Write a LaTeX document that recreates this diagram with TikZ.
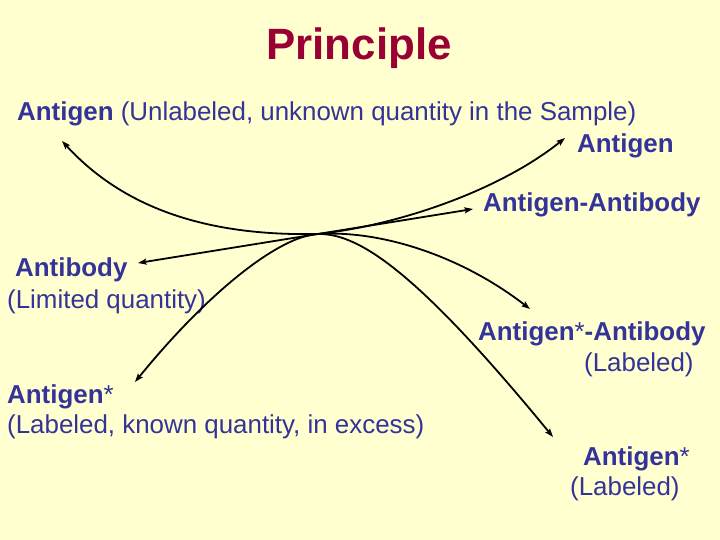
\documentclass[tikz,border=0pt]{standalone}
\usepackage{fontspec}
\setmainfont{Liberation Sans}
\usetikzlibrary{arrows.meta}
\definecolor{slidebg}{RGB}{255,255,208}
\definecolor{txtblue}{RGB}{51,51,153}
\definecolor{titlered}{RGB}{153,0,51}

\begin{document}
\begin{tikzpicture}[x=1bp,y=-1bp]
    \tikzstyle{annot}=[inner sep=0pt, anchor=base west, text=txtblue, font=\fontsize{26}{31}\selectfont]
    \tikzstyle{chem}=[annot, font=\fontsize{26}{31}\selectfont\bfseries]
    \tikzstyle{react}=[draw=black, line width=1.8bp, -{Stealth[length=8.5bp,width=6bp,inset=1.5bp]}]

    % Slide background
    \fill[slidebg] (0,0) rectangle (720,540);
    \useasboundingbox (0,0) rectangle (720,540);

    \node[inner sep=0pt, anchor=base, text=titlered, font=\fontsize{44}{52}\selectfont\bfseries] (title) at (359,60) {Principle};

    % Reactants
    \node[annot] (ag-in) at (17,121) {\textbf{Antigen} (Unlabeled, unknown quantity in the Sample)};
    \node[chem] (ab) at (15,277) {Antibody};
    \node[annot] (ab-note) at (7,308) {(Limited quantity)};
    \node[chem] (ags-in) at (7,403) {Antigen\mdseries*};
    \node[annot] (ags-note) at (7,433) {(Labeled, known quantity, in excess)};

    % Products
    \node[chem] (ag-out) at (577,153) {Antigen};
    \node[chem] (agab) at (483,212) {Antigen-Antibody};
    \node[chem] (agsab) at (478,340) {Antigen\mdseries*\bfseries-Antibody};
    \node[annot] (agsab-note) at (584,371) {(Labeled)};
    \node[chem] (ags-out) at (583,465) {Antigen\mdseries*};
    \node[annot] (ags-out-note) at (570,495) {(Labeled)};

    % Arrow tips and the meeting point
    \coordinate (mix) at (318,234);
    \coordinate (ag-in-tip) at (62,141);
    \coordinate (ag-out-tip) at (565,138);
    \coordinate (ab-tip) at (138,263);
    \coordinate (agab-tip) at (473,209);
    \coordinate (ags-in-tip) at (135,382);
    \coordinate (agsab-tip) at (530,309);
    \coordinate (ags-out-tip) at (553,437);

    % Connect the meeting point with every species
    \draw[react] (mix) .. controls (220,236) and (130,215) .. (ag-in-tip);
    \draw[react] (mix) .. controls (400,225) and (500,190) .. (ag-out-tip);
    \draw[react, {Stealth[length=8.5bp,width=6bp,inset=1.5bp]}-{Stealth[length=8.5bp,width=6bp,inset=1.5bp]}] (ab-tip) -- (agab-tip);
    \draw[react] (mix) .. controls (280,236) and (210,290) .. (ags-in-tip);
    \draw[react] (mix) .. controls (380,230) and (460,255) .. (agsab-tip);
    \draw[react] (mix) .. controls (360,233) and (420,275) .. (ags-out-tip);
\end{tikzpicture}
\end{document}
